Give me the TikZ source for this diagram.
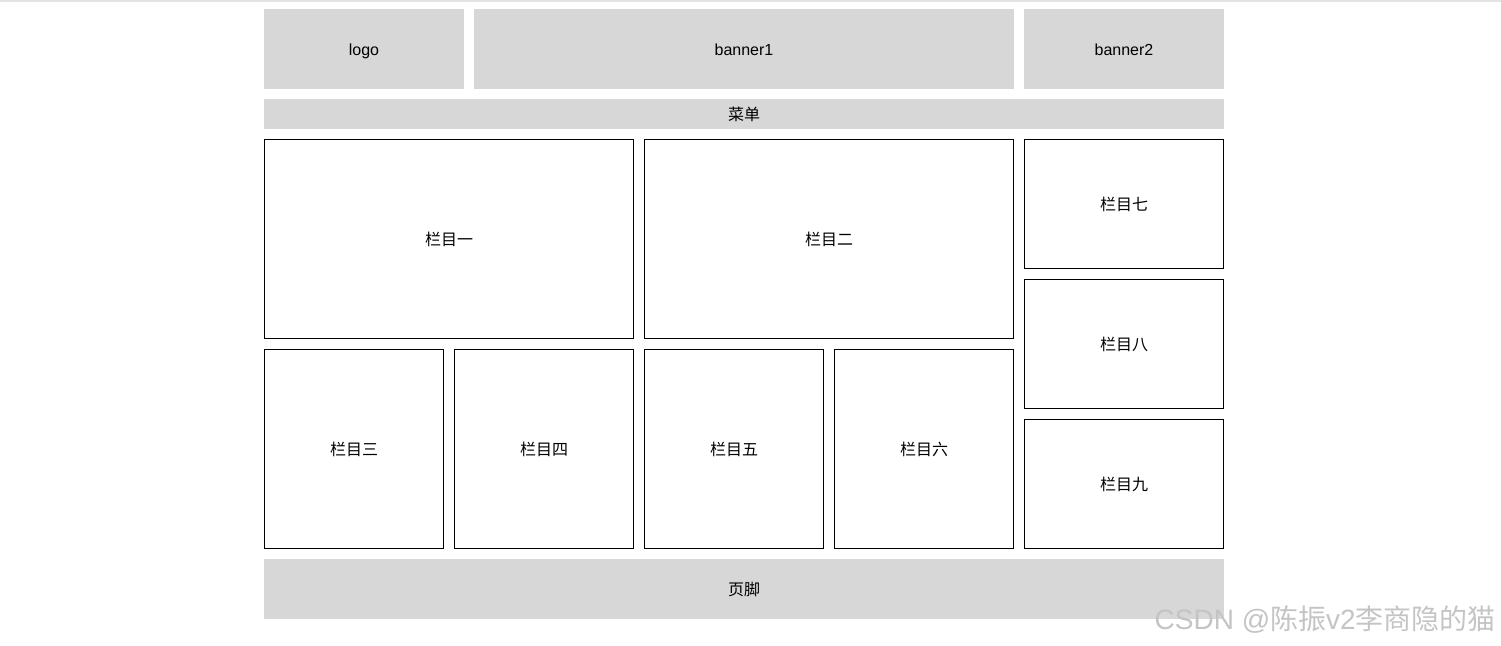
\documentclass[tikz,border=0pt]{standalone}
\usepackage{fontspec}
\setmainfont{Liberation Sans}
\newfontfamily\cjk{Noto Sans CJK SC}
\definecolor{blockgray}{HTML}{D7D7D7}
\definecolor{rulegray}{HTML}{E3E3E3}
\definecolor{markgray}{HTML}{C4C4C4}
\tikzset{
  graybox/.style={fill=blockgray, draw=none, inner sep=0pt, text height=14pt, text depth=1pt, font=\fontsize{16}{19}\selectfont},
  colbox/.style={draw=black, line width=1pt, fill=white, inner sep=0pt, text height=14pt, text depth=1pt, font=\fontsize{16}{19}\selectfont\cjk}
}
\begin{document}
\begin{tikzpicture}[x=1pt, y=-1pt]
\useasboundingbox (0,0) rectangle (1501,645);
\fill[rulegray] (0,0) rectangle (1501,1.5);

% top row
\node[graybox, minimum width=200pt, minimum height=80pt] (logo) at (364,49) {logo};
\node[graybox, minimum width=540pt, minimum height=80pt] (banner1) at (744,49) {banner1};
\node[graybox, minimum width=200pt, minimum height=80pt] (banner2) at (1124,49) {banner2};

% menu
\node[graybox, minimum width=960pt, minimum height=30pt] (menu) at (744,114) {\cjk 菜单};

% columns
\node[colbox, minimum width=369pt, minimum height=199pt] (col1) at (449,239) {栏目一};
\node[colbox, minimum width=369pt, minimum height=199pt] (col2) at (829,239) {栏目二};
\node[colbox, minimum width=179pt, minimum height=199pt] (col3) at (354,449) {栏目三};
\node[colbox, minimum width=179pt, minimum height=199pt] (col4) at (544,449) {栏目四};
\node[colbox, minimum width=179pt, minimum height=199pt] (col5) at (734,449) {栏目五};
\node[colbox, minimum width=179pt, minimum height=199pt] (col6) at (924,449) {栏目六};
\node[colbox, minimum width=199pt, minimum height=129pt] (col7) at (1124,204) {栏目七};
\node[colbox, minimum width=199pt, minimum height=129pt] (col8) at (1124,344) {栏目八};
\node[colbox, minimum width=199pt, minimum height=129pt] (col9) at (1124,484) {栏目九};

% footer
\node[graybox, minimum width=960pt, minimum height=60pt] (footer) at (744,589) {\cjk 页脚};

% watermark
\node[markgray, font=\fontsize{28}{32}\selectfont, anchor=east, inner sep=0pt] (mark) at (1496,620) {CSDN @{\cjk 陈振}v2{\cjk 李商隐的猫}};
\end{tikzpicture}
\end{document}
